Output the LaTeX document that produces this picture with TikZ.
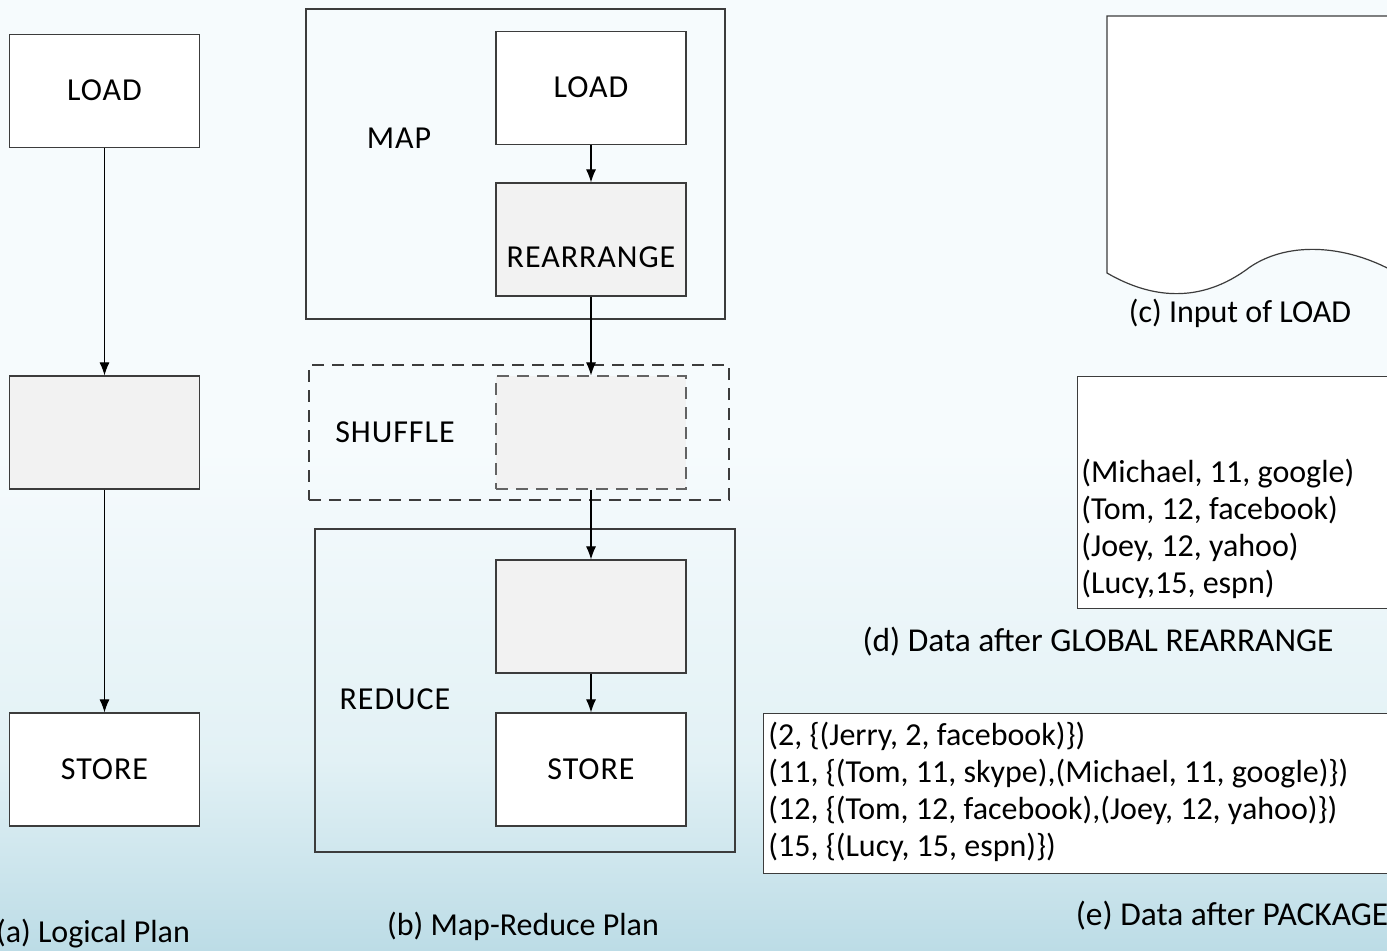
\documentclass[tikz,border=0pt]{standalone}
\usepackage{fontspec}
\setmainfont{Carlito}
\newfontfamily\labelfont[LetterSpace=3]{Carlito}
\usetikzlibrary{arrows.meta}
\definecolor{bgtop}{HTML}{F6FBFD}
\definecolor{bgmid}{HTML}{E2F1F5}
\definecolor{bgbot}{HTML}{BCDCE6}
\definecolor{edge}{HTML}{3C3C3C}
\definecolor{opfill}{HTML}{F2F2F2}
\tikzset{
  txt/.style={font=\fontsize{16}{18.5}\selectfont, inner sep=0pt},
  captxt/.style={font=\fontsize{16.7}{19}\selectfont, inner sep=0pt},
  lbl/.style={font=\labelfont\fontsize{16}{18.5}\selectfont, inner sep=0pt},
  opbox/.style={draw=edge, line width=0.6pt, fill=white,
    minimum width=95pt, minimum height=56.5pt, inner sep=0pt},
  graybox/.style={opbox, fill=opfill},
  stage/.style={draw=edge, line width=0.6pt, inner sep=0pt},
  dashstage/.style={stage, dash pattern=on 6pt off 4pt},
  flow/.style={draw=black, line width=0.55pt, -{Latex[length=6.5pt,width=5pt]}},
  databox/.style={draw=edge, line width=0.6pt, fill=white, inner sep=0pt, anchor=north west}
}
\begin{document}
\begin{tikzpicture}[x=0.5pt, y=-0.5pt]
\clip (0,0) rectangle (1387,950);
% background
\fill[bgtop] (0,0) rectangle (1387,950);
\shade[top color=bgtop, bottom color=bgmid] (0,450) rectangle (1387,760);
\shade[top color=bgmid, bottom color=bgbot] (0,759) rectangle (1387,951);

% (a) logical plan
\node[opbox] (aload) at (104.5,91) {};
\node[lbl] at (104.5,90) {LOAD};
\node[graybox] (amid) at (104.5,432.5) {};
\node[opbox] (astore) at (104.5,769.5) {};
\node[lbl] at (104.5,769) {STORE};
\draw[flow] (aload) -- (amid);
\draw[flow] (amid) -- (astore);
\node[txt] (capa) at (93,934) {(a) Logical Plan};

% (b) map-reduce plan
\node[stage, minimum width=209.5pt, minimum height=155pt] (map) at (515.5,164) {};
\node[lbl] at (399,138) {MAP};
\node[opbox] (bload) at (591,88) {};
\node[lbl] at (591,87) {LOAD};
\node[graybox] (brearr) at (591,239.5) {};
\node[lbl] at (591,257) {REARRANGE};
\draw[flow] (bload) -- (brearr);

\node[dashstage, minimum width=210pt, minimum height=67.5pt] (shuffle) at (519,432.5) {};
\node[lbl] at (395,432) {SHUFFLE};
\node[graybox, dash pattern=on 6pt off 4pt, draw=edge!80] (bglobal) at (591,432.5) {};
\draw[flow] (brearr) -- (bglobal);

\node[stage, minimum width=210pt, minimum height=161.5pt] (reduce) at (525,690.5) {};
\node[lbl] at (395,699) {REDUCE};
\node[graybox] (bpack) at (591,616.5) {};
\node[opbox] (bstore) at (591,769.5) {};
\node[lbl] at (591,769) {STORE};
\draw[flow] (bglobal) -- (bpack);
\draw[flow] (bpack) -- (bstore);
\node[txt] (capb) at (523,926) {(b) Map-Reduce Plan};

% (c) input document
\draw[edge, line width=0.6pt, fill=white]
  (1107,273) -- (1107,16) -- (1400,16) -- (1400,275)
  .. controls (1350,245) and (1290,240) .. (1250,267)
  .. controls (1200,305) and (1150,298) .. (1107,273) -- cycle;
\node[txt] (capc) at (1240,313) {(c) Input of LOAD};

% (d) data after global rearrange
\node[databox, minimum width=161.5pt, minimum height=116pt] (dbox) at (1077,376) {};
\foreach \t [count=\i] in {{(Michael, 11, google)},{(Tom, 12, facebook)},{(Joey, 12, yahoo)},{(Lucy,15, espn)}}
  \node[txt, anchor=base west] (d\i) at (1081,{482+37*(\i-1)}) {\t};
\node[captxt] (capd) at (1098,642) {(d) Data after GLOBAL REARRANGE};

% (e) data after package
\node[databox, minimum width=318pt, minimum height=80pt] (ebox) at (763,713) {};
\foreach \t [count=\i] in {{(2, \{(Jerry, 2, facebook)\})},{(11, \{(Tom, 11, skype),(Michael, 11, google)\})},{(12, \{(Tom, 12, facebook),(Joey, 12, yahoo)\})},{(15, \{(Lucy, 15, espn)\})}}
  \node[txt, anchor=base west] (e\i) at (768,{745+37*(\i-1)}) {\t};
\node[captxt] (cape) at (1232,916) {(e) Data after PACKAGE};
\end{tikzpicture}
\end{document}
